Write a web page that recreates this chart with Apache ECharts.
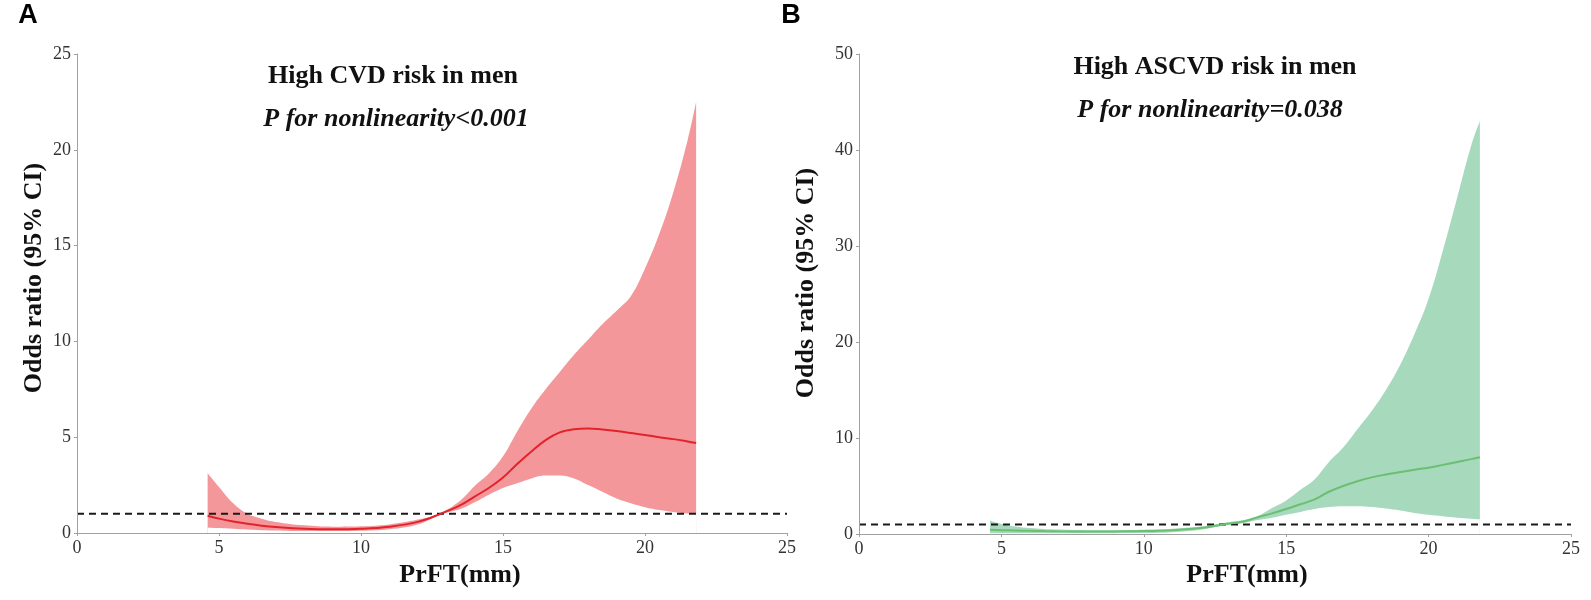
<!DOCTYPE html>
<html>
<head>
<meta charset="utf-8">
<title>PrFT odds ratio</title>
<script src="https://cdn.jsdelivr.net/npm/echarts@6/dist/echarts.min.js"></script>
<style>
  html, body { margin: 0; padding: 0; background: #fff; }
  #main { width: 1591px; height: 600px; }
</style>
</head>
<body>
<div id="main"></div>
<script>
// PrFT (mm) 取值点，两个面板共用
var prft = [4.6, 5, 5.5, 6, 6.5, 7, 8, 9, 10, 11, 12, 12.8, 13.5, 14, 14.5, 15, 15.5, 16, 16.5, 17, 17.5, 18, 18.5, 19, 19.5, 20, 20.5, 21, 21.5, 21.8];

// A: High CVD risk in men
var cvdOR    = [0.9, 0.75, 0.6, 0.48, 0.38, 0.31, 0.22, 0.19, 0.22, 0.33, 0.58, 1.0, 1.45, 1.9, 2.35, 2.9, 3.6, 4.25, 4.85, 5.25, 5.42, 5.46, 5.4, 5.32, 5.22, 5.12, 5.0, 4.9, 4.78, 4.7];
var cvdUpper = [3.12, 2.4, 1.55, 1.0, 0.75, 0.58, 0.4, 0.33, 0.35, 0.45, 0.7, 1.05, 1.7, 2.45, 3.1, 4.0, 5.3, 6.5, 7.5, 8.4, 9.3, 10.1, 10.9, 11.6, 12.35, 13.8, 15.6, 17.8, 20.5, 22.5];
var cvdLower = [0.28, 0.26, 0.22, 0.18, 0.15, 0.13, 0.1, 0.1, 0.12, 0.2, 0.45, 0.97, 1.25, 1.6, 2.0, 2.35, 2.6, 2.85, 3.0, 3.0, 2.85, 2.5, 2.15, 1.8, 1.55, 1.35, 1.2, 1.1, 1.02, 1.0];

// B: High ASCVD risk in men
var ascvdOR    = [0.45, 0.4, 0.36, 0.33, 0.3, 0.28, 0.26, 0.27, 0.3, 0.4, 0.62, 1.0, 1.3, 1.75, 2.15, 2.6, 3.1, 3.6, 4.4, 5.0, 5.5, 5.9, 6.2, 6.45, 6.7, 6.9, 7.2, 7.5, 7.8, 8.0];
var ascvdUpper = [1.39, 1.05, 0.78, 0.62, 0.52, 0.46, 0.4, 0.4, 0.45, 0.55, 0.78, 1.15, 1.45, 1.85, 2.7, 3.5, 4.6, 5.7, 7.5, 9.0, 10.9, 12.8, 15.0, 17.6, 20.8, 24.5, 29.5, 35, 40.5, 43];
var ascvdLower = [0.07, 0.07, 0.07, 0.08, 0.08, 0.08, 0.09, 0.09, 0.1, 0.18, 0.45, 0.88, 1.15, 1.45, 1.7, 2.0, 2.3, 2.6, 2.8, 2.9, 2.9, 2.8, 2.65, 2.45, 2.2, 2.0, 1.85, 1.7, 1.6, 1.53];

// 参考线 OR=1，坐标轴刻度
var refOR = 1;
var xTicks = [0, 25, 5];
var yTicksA = [0, 25, 5];
var yTicksB = [0, 50, 10];

var serif = '"Liberation Serif", "Times New Roman", serif';

function pairs(xs, ys) {
    return xs.map(function (v, i) { return [v, ys[i]]; });
}

function makeAxisX(idx) {
    return {
        type: 'value', gridIndex: idx, z: 10,
        min: xTicks[0], max: xTicks[1], interval: xTicks[2],
        axisLine: { lineStyle: { color: '#a0a0a0', width: 1 } },
        axisTick: { show: true, length: 3, lineStyle: { color: '#a0a0a0' } },
        axisLabel: { fontFamily: serif, fontSize: 18, color: '#333', margin: 6 },
        splitLine: { show: false }
    };
}

function makeAxisY(idx, t) {
    return {
        type: 'value', gridIndex: idx, z: 10,
        min: t[0], max: t[1], interval: t[2],
        axisLine: { show: true, lineStyle: { color: '#a0a0a0', width: 1 } },
        axisTick: { show: true, length: 3, lineStyle: { color: '#a0a0a0' } },
        axisLabel: { fontFamily: serif, fontSize: 18, color: '#333', margin: 6 },
        splitLine: { show: false }
    };
}

//置信区间：上限面积填色，再用白色面积把下限以下盖掉
function bandSeries(idx, low, up, fill) {
    var base = {
        type: 'line', xAxisIndex: idx, yAxisIndex: idx, symbol: 'none',
        smooth: 0.4, silent: true, lineStyle: { opacity: 0 }
    };
    return [
        Object.assign({}, base, { data: pairs(prft, up), areaStyle: { color: fill, opacity: 1 }, z: 1 }),
        Object.assign({}, base, { data: pairs(prft, low), areaStyle: { color: '#ffffff', opacity: 1 }, z: 2 })
    ];
}

function refSeries(idx) {
    return {
        type: 'line', xAxisIndex: idx, yAxisIndex: idx,
        data: [[xTicks[0], refOR], [xTicks[1], refOR]], symbol: 'none',
        lineStyle: { color: '#1a1a1a', width: 2, type: [7, 5] }, z: 3, silent: true
    };
}

function orSeries(idx, vals, color) {
    return {
        type: 'line', xAxisIndex: idx, yAxisIndex: idx,
        data: pairs(prft, vals), symbol: 'none', smooth: 0.4,
        lineStyle: { color: color, width: 2 }, z: 4, silent: true
    };
}

function txt(x, y, s, size, opt) {
    opt = opt || {};
    return {
        type: 'text', x: x, y: y, rotation: opt.rotation || 0,
        style: {
            text: s, fill: opt.color || '#111',
            font: (opt.italic ? 'italic ' : '') + 'bold ' + size + 'px ' + (opt.family || serif),
            textAlign: 'center', textVerticalAlign: 'middle'
        }
    };
}

var myChart = echarts.init(document.getElementById('main'));
var series = []
    .concat(bandSeries(0, cvdLower, cvdUpper, '#f4979b'))
    .concat([refSeries(0), orSeries(0, cvdOR, '#e3232b')])
    .concat(bandSeries(1, ascvdLower, ascvdUpper, '#a7d9bd'))
    .concat([refSeries(1), orSeries(1, ascvdOR, '#6bbf72')]);

myChart.setOption({
    animation: false,
    grid: [
        { left: 77, top: 54, width: 710, height: 479 },
        { left: 859, top: 54, width: 712, height: 480 }
    ],
    xAxis: [makeAxisX(0), makeAxisX(1)],
    yAxis: [makeAxisY(0, yTicksA), makeAxisY(1, yTicksB)],
    series: series,
    graphic: [
        txt(28, 16, 'A', 27, { family: '"Liberation Sans", Arial, sans-serif', color: '#000' }),
        txt(791, 16, 'B', 27, { family: '"Liberation Sans", Arial, sans-serif', color: '#000' }),
        txt(393, 76, 'High CVD risk in men', 26),
        txt(396, 119, 'P for nonlinearity<0.001', 26, { italic: true }),
        txt(1215, 67, 'High ASCVD risk in men', 26),
        txt(1210, 110, 'P for nonlinearity=0.038', 26, { italic: true }),
        txt(460, 575, 'PrFT(mm)', 26),
        txt(1247, 575, 'PrFT(mm)', 26),
        txt(34, 278, 'Odds ratio (95% CI)', 26, { rotation: Math.PI / 2 }),
        txt(806, 283, 'Odds ratio (95% CI)', 26, { rotation: Math.PI / 2 })
    ]
});
</script>
</body>
</html>
